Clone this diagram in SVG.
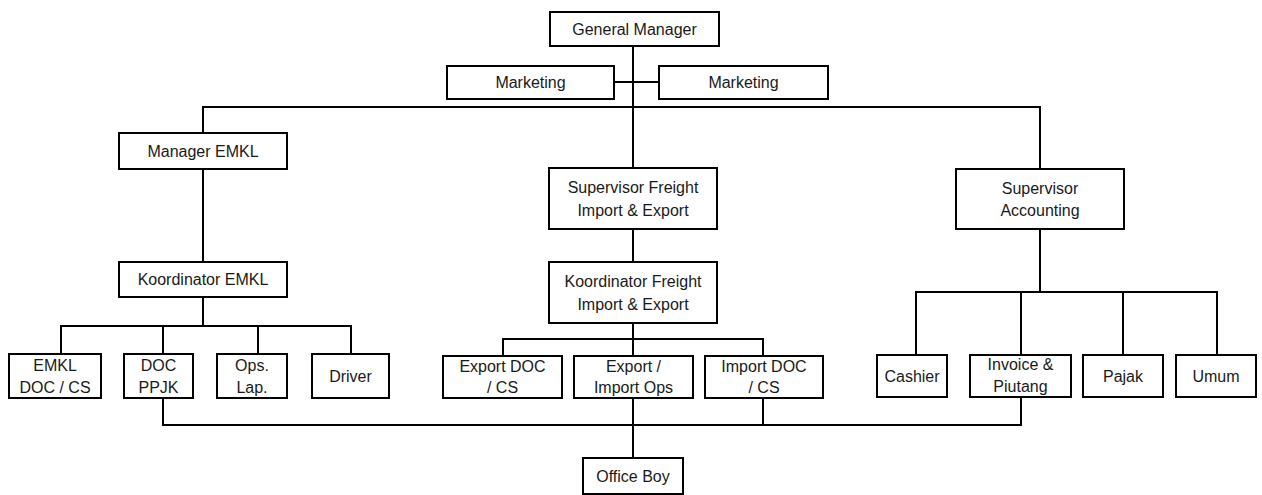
<svg xmlns="http://www.w3.org/2000/svg" width="1262" height="495" viewBox="0 0 1262 495">
<style>
.box{fill:#fff;stroke:#000;stroke-width:2}
.t{font-family:"Liberation Sans",Arial,sans-serif;font-size:16px;fill:#1a1a1a;text-anchor:middle}
.c{fill:none;stroke:#000;stroke-width:2;stroke-linecap:square}
</style>
<rect width="1262" height="495" fill="#fff"/>
<g id="connectors">
<path class="c" d="M633 46V168"/>
<path class="c" d="M614 82H659"/>
<path class="c" d="M203 107H1040V169"/>
<path class="c" d="M203 107V133"/>
<path class="c" d="M203 169V262"/>
<path class="c" d="M633 229V262"/>
<path class="c" d="M203 297V326"/>
<path class="c" d="M61 354V326H351V354M163 326V354M258 326V354"/>
<path class="c" d="M633 323V356"/>
<path class="c" d="M503 356V339H763V356"/>
<path class="c" d="M1040 229V292"/>
<path class="c" d="M916 355V292H1217V355M1021 292V355M1123 292V355"/>
<path class="c" d="M163 398V425H1021V397"/>
<path class="c" d="M763 398V425"/>
<path class="c" d="M633 398V458"/>
</g>
<g id="general-manager"><rect class="box" x="550" y="12" width="169" height="34"/><text class="t" x="634.5" y="34.5">General Manager</text></g>
<g id="marketing-left"><rect class="box" x="447" y="66" width="167" height="33"/><text class="t" x="530.5" y="88">Marketing</text></g>
<g id="marketing-right"><rect class="box" x="659" y="66" width="169" height="33"/><text class="t" x="743.5" y="88">Marketing</text></g>
<g id="manager-emkl"><rect class="box" x="119" y="133" width="168" height="36"/><text class="t" x="203" y="156.5">Manager EMKL</text></g>
<g id="koordinator-emkl"><rect class="box" x="119" y="262" width="168" height="35"/><text class="t" x="203" y="285">Koordinator EMKL</text></g>
<g id="supervisor-freight"><rect class="box" x="549" y="168" width="168" height="61"/><text class="t" x="633" y="193">Supervisor Freight</text><text class="t" x="633" y="215.5">Import &amp; Export</text></g>
<g id="koordinator-freight"><rect class="box" x="549" y="262" width="168" height="61"/><text class="t" x="633" y="287">Koordinator Freight</text><text class="t" x="633" y="309.5">Import &amp; Export</text></g>
<g id="supervisor-accounting"><rect class="box" x="956" y="169" width="168" height="60"/><text class="t" x="1040" y="193.5">Supervisor</text><text class="t" x="1040" y="216">Accounting</text></g>
<g id="emkl-doc-cs"><rect class="box" x="9" y="354" width="92" height="44"/><text class="t" x="55" y="371">EMKL</text><text class="t" x="55" y="393">DOC / CS</text></g>
<g id="doc-ppjk"><rect class="box" x="124" y="354" width="69" height="44"/><text class="t" x="158.5" y="371">DOC</text><text class="t" x="158.5" y="393">PPJK</text></g>
<g id="ops-lap"><rect class="box" x="217" y="354" width="70" height="44"/><text class="t" x="252" y="371">Ops.</text><text class="t" x="252" y="393">Lap.</text></g>
<g id="driver"><rect class="box" x="312" y="354" width="77" height="44"/><text class="t" x="350.5" y="381.5">Driver</text></g>
<g id="export-doc-cs"><rect class="box" x="443" y="356" width="119" height="42"/><text class="t" x="502.5" y="372">Export DOC</text><text class="t" x="502.5" y="393">/ CS</text></g>
<g id="export-import-ops"><rect class="box" x="574" y="356" width="119" height="42"/><text class="t" x="633.5" y="372">Export /</text><text class="t" x="633.5" y="393">Import Ops</text></g>
<g id="import-doc-cs"><rect class="box" x="705" y="356" width="118" height="42"/><text class="t" x="764" y="372">Import DOC</text><text class="t" x="764" y="393">/ CS</text></g>
<g id="cashier"><rect class="box" x="877" y="355" width="70" height="42"/><text class="t" x="912" y="381.5">Cashier</text></g>
<g id="invoice-piutang"><rect class="box" x="970" y="355" width="101" height="42"/><text class="t" x="1020.5" y="370">Invoice &amp;</text><text class="t" x="1020.5" y="392">Piutang</text></g>
<g id="pajak"><rect class="box" x="1083" y="355" width="80" height="42"/><text class="t" x="1123" y="381.5">Pajak</text></g>
<g id="umum"><rect class="box" x="1176" y="355" width="80" height="42"/><text class="t" x="1216" y="381.5">Umum</text></g>
<g id="office-boy"><rect class="box" x="583" y="458" width="100" height="36"/><text class="t" x="633" y="481.5">Office Boy</text></g>
</svg>
